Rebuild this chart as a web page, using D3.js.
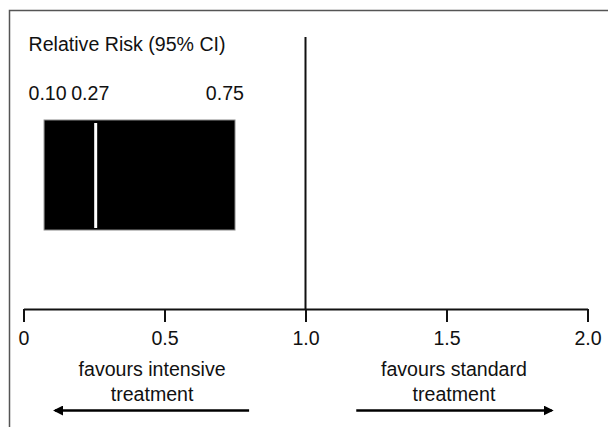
<!DOCTYPE html>
<html>
<head>
<meta charset="utf-8">
<script src="https://cdn.jsdelivr.net/npm/d3@7"></script>
<style>
  html, body { margin: 0; padding: 0; background: #fff; }
  svg { display: block; }
  text { font-family: "Liberation Sans", Arial, sans-serif; fill: #111; }
</style>
</head>
<body>
<script>
// ---- data ----
const axisTicks = [0, 0.5, 1.0, 1.5, 2.0];
const axisTickLabels = ["0", "0.5", "1.0", "1.5", "2.0"];
const rows = ["pooled"];
// relative risk interval as drawn in the figure
const ciLower = [0.073];
const ciPoint = [0.256];
const ciUpper = [0.75];
// printed labels for the interval
const ciLabels = ["0.10", "0.27", "0.75"];
const title = "Relative Risk (95% CI)";
const nullValue = 1.0;
const favourLabels = [["favours intensive", "treatment"], ["favours standard", "treatment"]];
const arrowFrom = [0.80, 1.18];
const arrowTo = [0.112, 1.873];

// ---- layout ----
const W = 608, H = 427;
const svg = d3.select("body").append("svg").attr("width", W).attr("height", H);

const x = d3.scaleLinear().domain([0, 2]).range([23.5, 587.5]);
const y = d3.scaleBand().domain(rows).range([120, 230]);
const axisY = 309;
const fs = 19.6;

// frame (top + left)
svg.append("path")
  .attr("d", `M9.5,${H} V10.5 H${W}`)
  .attr("fill", "none").attr("stroke", "#555").attr("stroke-width", 1.5);

// title
svg.append("text").attr("x", 28.5).attr("y", 51).attr("font-size", fs).text(title);

// CI labels
svg.append("text").attr("x", 28.5).attr("y", 99.5).attr("font-size", fs).text(ciLabels[0]);
svg.append("text").attr("x", x(ciPoint[0]) - 24.5).attr("y", 99.5).attr("font-size", fs)
  .attr("text-anchor", "start").text(ciLabels[1]);
svg.append("text").attr("x", x(ciUpper[0]) + 9).attr("y", 99.5).attr("font-size", fs)
  .attr("text-anchor", "end").text(ciLabels[2]);

// CI box
rows.forEach((r, i) => {
  svg.append("rect")
    .attr("x", x(ciLower[i])).attr("y", y(r))
    .attr("width", x(ciUpper[i]) - x(ciLower[i])).attr("height", y.bandwidth())
    .attr("fill", "#000").attr("stroke", "#888").attr("stroke-width", 1);
  svg.append("line")
    .attr("x1", x(ciPoint[i])).attr("x2", x(ciPoint[i]))
    .attr("y1", y(r) + 3).attr("y2", y(r) + y.bandwidth() - 2)
    .attr("stroke", "#fff").attr("stroke-width", 3);
});

// null line
svg.append("line")
  .attr("x1", x(nullValue)).attr("x2", x(nullValue))
  .attr("y1", 37).attr("y2", axisY)
  .attr("stroke", "#111").attr("stroke-width", 2);

// axis
const axis = d3.axisBottom(x)
  .tickValues(axisTicks)
  .tickFormat((d, i) => axisTickLabels[i])
  .tickSize(13).tickSizeOuter(0).tickPadding(9);
const g = svg.append("g").attr("transform", `translate(0,${axisY})`).call(axis);
g.select(".domain").attr("stroke", "#111").attr("stroke-width", 2);
g.selectAll(".tick line").attr("stroke", "#111").attr("stroke-width", 2);
g.selectAll(".tick text").attr("font-size", fs).attr("font-family", "Liberation Sans, Arial, sans-serif").attr("fill", "#111");

// favour labels and arrows
const defs = svg.append("defs");
defs.append("marker").attr("id", "ah").attr("viewBox", "0 0 10 10")
  .attr("refX", 8).attr("refY", 5).attr("markerWidth", 4).attr("markerHeight", 4)
  .attr("orient", "auto").attr("markerUnits", "strokeWidth")
  .append("path").attr("d", "M0,0 L10,5 L0,10 Z").attr("fill", "#000");

favourLabels.forEach((lines, i) => {
  const cx = (x(arrowFrom[i]) + x(arrowTo[i])) / 2;
  lines.forEach((t, j) => {
    svg.append("text").attr("x", cx).attr("y", 376 + j * 24.5)
      .attr("text-anchor", "middle").attr("font-size", fs).text(t);
  });
  svg.append("line")
    .attr("x1", x(arrowFrom[i])).attr("x2", x(arrowTo[i]))
    .attr("y1", 410.5).attr("y2", 410.5)
    .attr("stroke", "#000").attr("stroke-width", 2.5)
    .attr("marker-end", "url(#ah)");
});
</script>
</body>
</html>
